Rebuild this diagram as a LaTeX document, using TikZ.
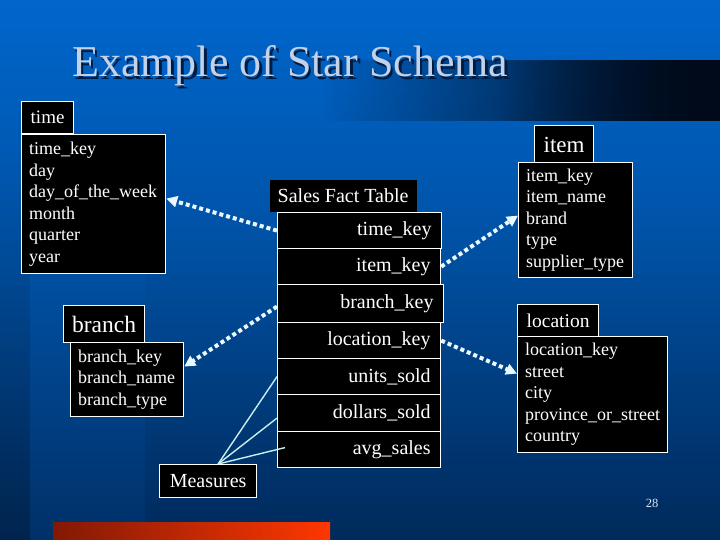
\documentclass[tikz,border=0pt]{standalone}
\usepackage{fontspec}
\setmainfont{Liberation Serif}
\usetikzlibrary{arrows.meta,fadings}
\definecolor{bgtop}{RGB}{0,102,204}
\definecolor{bgmid}{RGB}{0,80,162}
\definecolor{bgbot}{RGB}{0,48,104}
\definecolor{tbend}{RGB}{0,10,26}
\definecolor{titlecol}{RGB}{195,210,232}
\definecolor{titleshadow}{RGB}{0,28,66}
\definecolor{linkcol}{RGB}{235,248,255}
\definecolor{meascol}{RGB}{200,240,240}
\definecolor{barleft}{RGB}{130,25,5}
\definecolor{barright}{RGB}{255,55,0}
\definecolor{pagecol}{RGB}{220,232,245}
\begin{document}
\begin{tikzpicture}[x=1pt,y=-1pt,
 box/.style={draw=white, fill=black, line width=1.2pt, text=white, anchor=north west, inner sep=0pt},
 hdr/.style={box, font=\fontsize{19}{22}\selectfont},
 dimbody/.style={box, font=\fontsize{18}{21.5}\selectfont, align=left, inner xsep=7.5pt},
 factrow/.style={box, font=\fontsize{20}{24}\selectfont, align=right, inner xsep=10pt, minimum height=36pt},
 link/.style={draw=linkcol, line width=4pt, dash pattern=on 4pt off 3pt, -{Triangle[length=11pt,width=11pt]}},
 measline/.style={draw=meascol, line width=1.4pt}]

\useasboundingbox (0,0) rectangle (720,540);
% background
\shade[top color=bgtop, bottom color=bgbot, middle color=bgmid] (0,0) rectangle (720,540);
\fill[black, opacity=0.25, path fading=north] (0,150) rectangle (30,540);
\fill[black, opacity=0.12, path fading=north] (145,200) rectangle (720,540);
% title bar
\fill[tbend, path fading=west] (320,60) rectangle (720,121);
\fill[tbend, path fading=west] (500,60) rectangle (720,121);
% title
\node[anchor=base west, inner sep=0pt, font=\fontsize{44}{50}\selectfont, text=titleshadow] (tshadow) at (74.5,79.5) {Example of Star Schema};
\node[anchor=base west, inner sep=0pt, font=\fontsize{44}{50}\selectfont, text=titlecol] (title) at (72,77) {Example of Star Schema};

% time
\node[hdr, minimum width=52pt, minimum height=32pt] (timeh) at (21,101) {time};
\node[dimbody, text width=129pt, minimum height=139pt] (timeb) at (21,134)
 {time\_key\\day\\day\_of\_the\_week\\month\\quarter\\year};
% item
\node[box, font=\fontsize{23}{26}\selectfont, minimum width=59pt, minimum height=38pt] (itemh) at (534,125) {item};
\node[dimbody, text width=99pt, minimum height=115pt] (itemb) at (518,162)
 {item\_key\\item\_name\\brand\\type\\supplier\_type};
% location
\node[box, font=\fontsize{19.5}{22}\selectfont, minimum width=81pt, minimum height=32pt] (loch) at (517,304) {location};
\node[dimbody, text width=135pt, minimum height=116pt] (locb) at (517,336)
 {location\_key\\street\\city\\province\_or\_street\\country};
% branch
\node[box, font=\fontsize{23.5}{26}\selectfont, minimum width=81pt, minimum height=37pt] (branchh) at (63,305) {branch};
\node[dimbody, text width=98pt, minimum height=74pt] (branchb) at (70,342)
 {branch\_key\\branch\_name\\branch\_type};

% fact table
\node[box, draw=none, font=\fontsize{20}{24}\selectfont, minimum width=147pt, minimum height=32pt] (facth) at (269,179) {Sales Fact Table};
\node[factrow, text width=144pt] (f1) at (277,212) {time\_key};
\node[factrow, text width=143pt] (f2) at (277,248) {item\_key};
\node[factrow, text width=146pt, minimum height=38pt] (f3) at (277,284) {branch\_key};
\node[factrow, text width=143pt] (f4) at (277,322) {location\_key};
\node[factrow, text width=143pt] (f5) at (277,358) {units\_sold};
\node[factrow, text width=143pt, minimum height=37pt] (f6) at (277,394) {dollars\_sold};
\node[factrow, text width=143pt] (f7) at (277,431) {avg\_sales};

% measures
\node[box, font=\fontsize{20}{24}\selectfont, minimum width=97pt, minimum height=33pt] (meas) at (159,464) {Measures};

% links
\draw[link] (f1.west) -- ([yshift=5.5pt]timeb.east);
\draw[link] (f2.east) -- ([yshift=4.5pt]itemb.west);
\draw[link] ([yshift=-3pt]f3.west) -- ([yshift=13pt]branchb.east);
\draw[link] (f4.east) -- ([yshift=21pt]locb.west);

\draw[measline] ([xshift=10pt]meas.north) -- (f5.west);
\draw[measline] ([xshift=10pt]meas.north) -- ([yshift=-5pt]f6.west);
\draw[measline] ([xshift=10pt]meas.north) -- ([xshift=8pt,yshift=2pt]f7.west);

% bottom bar and page number
\shade[left color=barleft, right color=barright] (53,522) rectangle (330,540);
\node[text=pagecol, font=\fontsize{12.5}{14}\selectfont, inner sep=0pt] (pagenum) at (652,503) {28};
\end{tikzpicture}
\end{document}
